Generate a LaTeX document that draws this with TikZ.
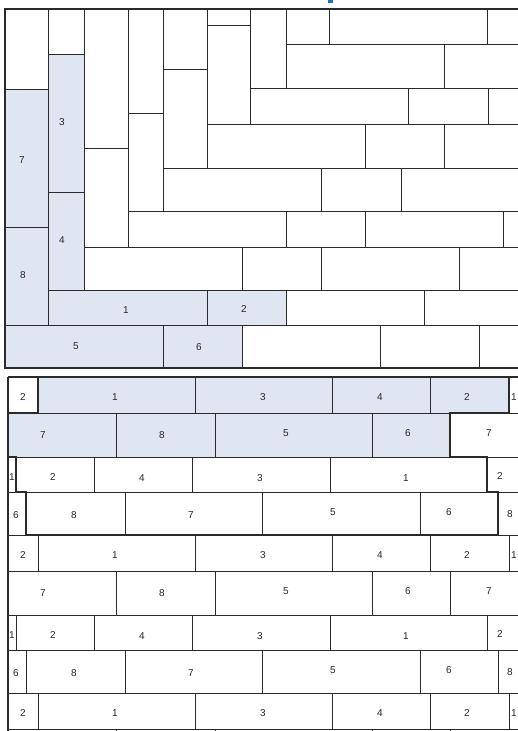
\documentclass[tikz,border=0pt]{standalone}
\usepackage{fontspec}
\setmainfont{Liberation Sans}
\definecolor{planklight}{HTML}{DFE6F2}
\definecolor{plankline}{HTML}{2B2B2B}
\definecolor{headblue}{HTML}{1E6FC8}
\tikzset{
  plank/.style={draw=plankline, line width=0.9pt},
  frame/.style={draw=plankline, line width=1.3pt},
  tag/.style={font=\fontsize{10}{12}\selectfont, text=black!85, inner sep=0pt},
  border/.style={draw=plankline, line width=2.2pt, line join=miter},
}
\begin{document}
\begin{tikzpicture}[x=1pt, y=-1pt]
  \useasboundingbox (0,0) rectangle (518,731);
  \clip (0,0) rectangle (518,731);
  % cut heading
  \fill[headblue] (328,0) rectangle (333,2.5);

  % upper panel: marked planks
  \fill[planklight] (5,89) rectangle (48,325);
  \fill[planklight] (48,54) rectangle (84,290);
  \fill[planklight] (48,290) rectangle (286,325);
  \fill[planklight] (5,325) rectangle (242,368);
  % upper panel: standing planks
  \draw[plank] (5,9) rectangle (48,89);
  \draw[plank] (5,89) rectangle (48,227);
  \draw[plank] (5,227) rectangle (48,325);
  \draw[plank] (48,9) rectangle (84,54);
  \draw[plank] (48,54) rectangle (84,192);
  \draw[plank] (48,192) rectangle (84,290);
  \draw[plank] (84,9) rectangle (128,148);
  \draw[plank] (84,148) rectangle (128,247);
  \draw[plank] (128,9) rectangle (163,113);
  \draw[plank] (128,113) rectangle (163,211);
  \draw[plank] (163,9) rectangle (207,69);
  \draw[plank] (163,69) rectangle (207,168);
  \draw[plank] (207,9) rectangle (250,25);
  \draw[plank] (207,25) rectangle (250,124);
  \draw[plank] (250,9) rectangle (286,88);
  % upper panel: lying planks
  \draw[plank] (286,9) rectangle (329,44);
  \draw[plank] (329,9) rectangle (487,44);
  \draw[plank] (487,9) rectangle (540,44);
  \draw[plank] (286,44) rectangle (444,88);
  \draw[plank] (444,44) rectangle (540,88);
  \draw[plank] (250,88) rectangle (408,124);
  \draw[plank] (408,88) rectangle (488,124);
  \draw[plank] (488,88) rectangle (540,124);
  \draw[plank] (207,124) rectangle (365,168);
  \draw[plank] (365,124) rectangle (444,168);
  \draw[plank] (444,124) rectangle (540,168);
  \draw[plank] (163,168) rectangle (321,211);
  \draw[plank] (321,168) rectangle (401,211);
  \draw[plank] (401,168) rectangle (540,211);
  \draw[plank] (128,211) rectangle (286,247);
  \draw[plank] (286,211) rectangle (365,247);
  \draw[plank] (365,211) rectangle (503,247);
  \draw[plank] (503,211) rectangle (540,247);
  \draw[plank] (84,247) rectangle (242,290);
  \draw[plank] (242,247) rectangle (321,290);
  \draw[plank] (321,247) rectangle (459,290);
  \draw[plank] (459,247) rectangle (540,290);
  \draw[plank] (48,290) rectangle (207,325);
  \draw[plank] (207,290) rectangle (286,325);
  \draw[plank] (286,290) rectangle (424,325);
  \draw[plank] (424,290) rectangle (540,325);
  \draw[plank] (5,325) rectangle (163,368);
  \draw[plank] (163,325) rectangle (242,368);
  \draw[plank] (242,325) rectangle (380,368);
  \draw[plank] (380,325) rectangle (479,368);
  \draw[plank] (479,325) rectangle (540,368);
  \draw[frame] (5,9) rectangle (540,368);
  % upper panel: numbers
  \node[tag] (up7) at (22,160) {7};
  \node[tag] (up3) at (62,122) {3};
  \node[tag] (up4) at (62,240) {4};
  \node[tag] (up8) at (23,275) {8};
  \node[tag] (up1) at (126,310) {1};
  \node[tag] (up2) at (244,309) {2};
  \node[tag] (up5) at (76,346) {5};
  \node[tag] (up6) at (199,347) {6};

  % lower panel: marked rows
  \fill[planklight] (38,377) rectangle (509,413);
  \fill[planklight] (8,413) rectangle (450,457);
  % lower panel: row a, repeated three times
  \foreach \dy in {0,158,316} {
    \draw[plank] (8,377+\dy) rectangle (38,413+\dy);
    \draw[plank] (38,377+\dy) rectangle (195,413+\dy);
    \draw[plank] (195,377+\dy) rectangle (332,413+\dy);
    \draw[plank] (332,377+\dy) rectangle (430,413+\dy);
    \draw[plank] (430,377+\dy) rectangle (509,413+\dy);
    \draw[plank] (509,377+\dy) rectangle (540,413+\dy);
    \node[tag] (ra1-\dy) at (23,397+\dy) {2};
    \node[tag] (ra2-\dy) at (115,397+\dy) {1};
    \node[tag] (ra3-\dy) at (263,397+\dy) {3};
    \node[tag] (ra4-\dy) at (380,397+\dy) {4};
    \node[tag] (ra5-\dy) at (467,397+\dy) {2};
    \node[tag] (ra6-\dy) at (514,397+\dy) {1};
    % row b
    \draw[plank] (8,413+\dy) rectangle (116,457+\dy);
    \draw[plank] (116,413+\dy) rectangle (215,457+\dy);
    \draw[plank] (215,413+\dy) rectangle (372,457+\dy);
    \draw[plank] (372,413+\dy) rectangle (450,457+\dy);
    \draw[plank] (450,413+\dy) rectangle (540,457+\dy);
  }
  % rows b, c, d with numbers (two courses)
  \foreach \dy in {0,158} {
    \node[tag] (rb1-\dy) at (43,435+\dy) {7};
    \node[tag] (rb2-\dy) at (162,435+\dy) {8};
    \node[tag] (rb3-\dy) at (286,433+\dy) {5};
    \node[tag] (rb4-\dy) at (408,433+\dy) {6};
    \node[tag] (rb5-\dy) at (489,433+\dy) {7};
    \draw[plank] (8,457+\dy) rectangle (16,492+\dy);
    \draw[plank] (16,457+\dy) rectangle (94,492+\dy);
    \draw[plank] (94,457+\dy) rectangle (192,492+\dy);
    \draw[plank] (192,457+\dy) rectangle (330,492+\dy);
    \draw[plank] (330,457+\dy) rectangle (487,492+\dy);
    \draw[plank] (487,457+\dy) rectangle (540,492+\dy);
    \node[tag] (rc1-\dy) at (12,477+\dy) {1};
    \node[tag] (rc2-\dy) at (53,477+\dy) {2};
    \node[tag] (rc3-\dy) at (142,478+\dy) {4};
    \node[tag] (rc4-\dy) at (260,478+\dy) {3};
    \node[tag] (rc5-\dy) at (406,478+\dy) {1};
    \node[tag] (rc6-\dy) at (500,476+\dy) {2};
    \draw[plank] (8,492+\dy) rectangle (26,535+\dy);
    \draw[plank] (26,492+\dy) rectangle (125,535+\dy);
    \draw[plank] (125,492+\dy) rectangle (262,535+\dy);
    \draw[plank] (262,492+\dy) rectangle (420,535+\dy);
    \draw[plank] (420,492+\dy) rectangle (498,535+\dy);
    \draw[plank] (498,492+\dy) rectangle (540,535+\dy);
    \node[tag] (rd1-\dy) at (16,515+\dy) {6};
    \node[tag] (rd2-\dy) at (74,515+\dy) {8};
    \node[tag] (rd3-\dy) at (191,515+\dy) {7};
    \node[tag] (rd4-\dy) at (333,512+\dy) {5};
    \node[tag] (rd5-\dy) at (449,512+\dy) {6};
    \node[tag] (rd6-\dy) at (510,514+\dy) {8};
  }
  \draw[frame] (8,377) -- (540,377);
  \draw[frame] (8,377) -- (8,740);
  % lower panel: outline of one course
  \draw[border] (38,377) -- (509,377) -- (509,413) -- (450,413) -- (450,457)
    -- (487,457) -- (487,492) -- (498,492) -- (498,535) -- (26,535) -- (26,492)
    -- (16,492) -- (16,457) -- (8,457) -- (8,413) -- (38,413) -- cycle;
\end{tikzpicture}
\end{document}
